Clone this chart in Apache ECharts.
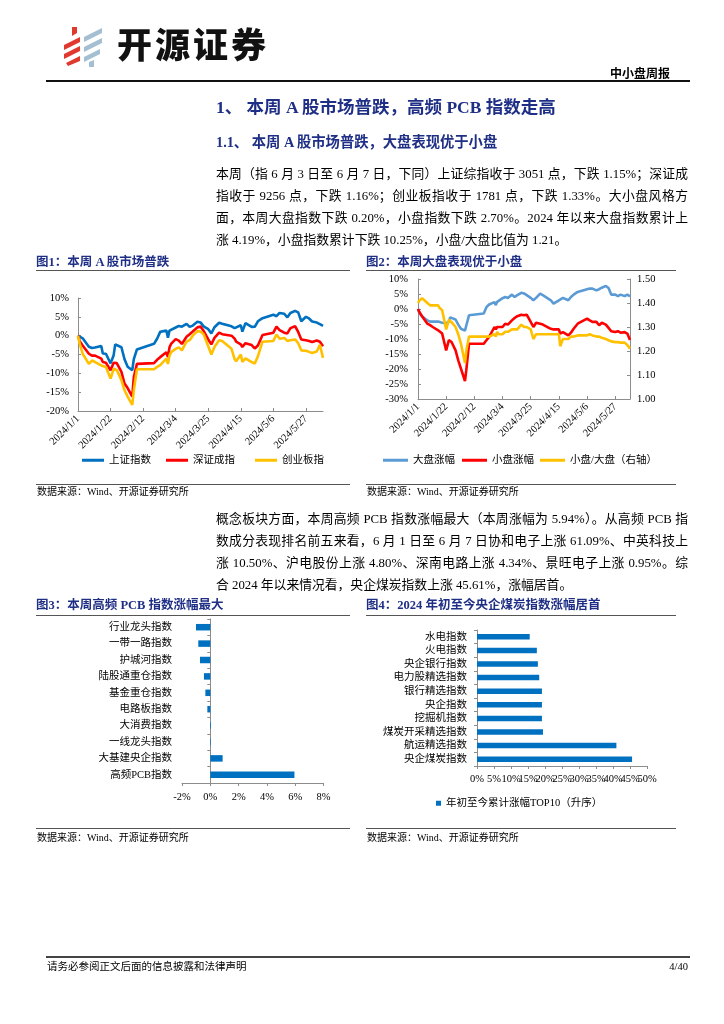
<!DOCTYPE html>
<html><head><meta charset="utf-8">
<script src="https://cdn.jsdelivr.net/npm/echarts@6/dist/echarts.min.js"></script>
<style>
html,body{margin:0;padding:0;background:#fff;}
#page{position:relative;width:724px;height:1024px;overflow:hidden;background:#fff;}
#chart{position:absolute;left:0;top:0;width:724px;height:1024px;}
.t{position:absolute;white-space:nowrap;font-family:'Liberation Serif','Noto Sans CJK SC',serif;color:#000;}
.h{color:#1f2f86;font-weight:bold;}
.ln{position:absolute;background:#555;height:1px;}
.p{position:absolute;left:216px;width:472px;font-size:12.8px;line-height:16px;height:16px;font-family:'Liberation Serif','Noto Sans CJK SC',serif;white-space:normal;text-align:justify;text-align-last:justify;color:#000;}
.p.last{text-align-last:left;}
</style></head>
<body>
<div id="page">
<div id="chart"></div>
<svg style="position:absolute;left:0;top:0" width="120" height="80">
  <polygon points="72,27 77,27 77,33 72,36" fill="#e03a2f"/>
  <polygon points="64,45 80,37 80,42 64,50" fill="#e03a2f"/>
  <polygon points="64,54 80,46 80,51 64,59" fill="#e03a2f"/>
  <polygon points="66,63 80,56 80,61 68,66" fill="#e03a2f"/>
  <polygon points="84,37 102,28 102,33 84,42" fill="#a3bfd1"/>
  <polygon points="84,47 102,38 102,43 84,52" fill="#a3bfd1"/>
  <polygon points="84,57 100,49 100,54 84,62" fill="#a3bfd1"/>
  <polygon points="89,62 94,60 94,67 89,67" fill="#a3bfd1"/>
</svg>
<div class="t" style="left:117px;top:22px;font-size:35px;line-height:42px;font-family:'Noto Sans CJK SC';font-weight:900;letter-spacing:3px;color:#111;">开源证券</div>
<div class="t" style="right:54px;top:65px;font-size:12px;line-height:16px;font-weight:bold;font-family:'Noto Sans CJK SC';">中小盘周报</div>
<div class="ln" style="left:46px;top:80px;width:644px;height:1.5px;background:#111;"></div>

<div class="t h" style="left:216px;top:97px;font-size:17.5px;line-height:20px;">1、 本周 A 股市场普跌，高频 PCB 指数走高</div>
<div class="t h" style="left:216px;top:133px;font-size:14.3px;line-height:18px;">1.1、 本周 A 股市场普跌，大盘表现优于小盘</div>

<div class="p" style="top:166px;">本周（指 6 月 3 日至 6 月 7 日，下同）上证综指收于 3051 点，下跌 1.15%；深证成</div>
<div class="p" style="top:188px;">指收于 9256 点，下跌 1.16%；创业板指收于 1781 点，下跌 1.33%。大小盘风格方</div>
<div class="p" style="top:210px;">面，本周大盘指数下跌 0.20%，小盘指数下跌 2.70%。2024 年以来大盘指数累计上</div>
<div class="p last" style="top:232px;">涨 4.19%，小盘指数累计下跌 10.25%，小盘/大盘比值为 1.21。</div>

<div class="t h" style="left:36px;top:254px;font-size:12.5px;line-height:16px;">图1：本周 A 股市场普跌</div>
<div class="t h" style="left:366px;top:254px;font-size:12.5px;line-height:16px;">图2：本周大盘表现优于小盘</div>
<div class="ln" style="left:36px;top:270px;width:314px;"></div>
<div class="ln" style="left:366px;top:270px;width:310px;"></div>

<div class="ln" style="left:36px;top:484px;width:314px;"></div>
<div class="ln" style="left:366px;top:484px;width:310px;"></div>
<div class="t" style="left:37px;top:485px;font-size:10px;line-height:14px;">数据来源：Wind、开源证券研究所</div>
<div class="t" style="left:367px;top:485px;font-size:10px;line-height:14px;">数据来源：Wind、开源证券研究所</div>

<div class="p" style="top:511px;">概念板块方面，本周高频 PCB 指数涨幅最大（本周涨幅为 5.94%）。从高频 PCB 指</div>
<div class="p" style="top:533px;">数成分表现排名前五来看，6 月 1 日至 6 月 7 日协和电子上涨 61.09%、中英科技上</div>
<div class="p" style="top:555px;">涨 10.50%、沪电股份上涨 4.80%、深南电路上涨 4.34%、景旺电子上涨 0.95%。综</div>
<div class="p last" style="top:577px;">合 2024 年以来情况看，央企煤炭指数上涨 45.61%，涨幅居首。</div>

<div class="t h" style="left:36px;top:597px;font-size:12.5px;line-height:16px;">图3：本周高频 PCB 指数涨幅最大</div>
<div class="t h" style="left:366px;top:597px;font-size:12.5px;line-height:16px;">图4：2024 年初至今央企煤炭指数涨幅居首</div>
<div class="ln" style="left:36px;top:615px;width:314px;"></div>
<div class="ln" style="left:366px;top:615px;width:310px;"></div>

<div class="ln" style="left:36px;top:828px;width:314px;"></div>
<div class="ln" style="left:366px;top:828px;width:310px;"></div>
<div class="t" style="left:37px;top:831px;font-size:10px;line-height:14px;">数据来源：Wind、开源证券研究所</div>
<div class="t" style="left:367px;top:831px;font-size:10px;line-height:14px;">数据来源：Wind、开源证券研究所</div>

<div class="ln" style="left:46px;top:956px;width:644px;height:2px;background:#444;"></div>
<div class="t" style="left:47px;top:960px;font-size:10.5px;line-height:14px;">请务必参阅正文后面的信息披露和法律声明</div>
<div class="t" style="right:36px;top:960px;font-size:10.5px;line-height:14px;">4/40</div>
</div>

<script>
// ---- data ----
const dates = ['2024-01-01','2024-01-02','2024-01-04','2024-01-08','2024-01-10','2024-01-12','2024-01-16','2024-01-17','2024-01-19','2024-01-22','2024-01-24','2024-01-25','2024-01-26','2024-01-29','2024-01-31','2024-02-02','2024-02-05','2024-02-06','2024-02-08','2024-02-19','2024-02-21','2024-02-23','2024-02-27','2024-02-28','2024-02-29','2024-03-01','2024-03-04','2024-03-06','2024-03-08','2024-03-11','2024-03-13','2024-03-15','2024-03-18','2024-03-20','2024-03-22','2024-03-25','2024-03-27','2024-03-29','2024-04-01','2024-04-03','2024-04-09','2024-04-11','2024-04-12','2024-04-15','2024-04-16','2024-04-18','2024-04-22','2024-04-24','2024-04-26','2024-04-29','2024-05-06','2024-05-08','2024-05-10','2024-05-13','2024-05-15','2024-05-17','2024-05-20','2024-05-22','2024-05-24','2024-05-27','2024-05-29','2024-05-31','2024-06-03','2024-06-05','2024-06-07'];
// Fig 1 (%)
const sse = [0,-0.43,-0.69,-2.94,-3.27,-3.12,-2.72,-4.75,-4.80,-7.35,-5.18,-2.31,-2.18,-3.08,-6.27,-8.23,-9.17,-6.23,-3.66,-2.16,-0.81,1.01,1.36,-0.57,1.35,1.75,2.16,2.58,2.39,3.14,2.32,2.68,3.70,3.52,2.46,1.73,0.61,2.23,3.44,3.17,2.47,1.99,1.50,2.77,1.08,3.34,2.34,2.35,3.82,4.64,5.57,5.16,6.04,5.82,4.87,6.02,6.60,6.17,3.83,5.01,4.57,3.76,3.48,3.04,2.57];
const szc = [0,-1.4,-2.6,-4.8,-5.3,-5.3,-6.1,-7.0,-7.2,-9.2,-7.2,-6.8,-7.3,-9.6,-12.7,-13.9,-16.2,-11.0,-7.5,-7.3,-6.4,-5.7,-4.4,-5.7,-3.1,-2.2,-0.9,-1.3,-2.2,-0.3,0.4,1.1,2.2,2.4,1.3,-1.0,-2.3,-0.6,0.8,0.4,0.0,-0.8,-1.6,-2.3,-3.0,-2.0,-2.5,-3.4,-2.6,0.2,0.8,2.4,1.5,0.8,0.6,2.0,2.5,1.0,-1.0,-1.2,-1.4,-1.7,-1.3,-1.6,-2.8];
const cyb = [0,-2.0,-4.8,-7.5,-6.6,-7.0,-7.9,-7.9,-8.3,-11.4,-8.8,-9.0,-9.1,-11.8,-14.5,-16.2,-18.4,-14.5,-8.9,-8.9,-8.3,-7.8,-6.1,-7.5,-5.3,-4.4,-3.5,-3.1,-3.9,-1.6,-1.2,0.0,1.2,1.1,0.4,-2.8,-5.0,-3.0,-1.2,-1.4,-3.5,-6.2,-6.8,-5.0,-7.0,-6.0,-7.0,-7.4,-5.5,-1.6,-1.4,0.3,-0.8,-0.6,-1.4,-1.2,-1.0,-2.0,-3.9,-4.0,-4.3,-4.6,-4.2,-2.4,-5.9];
// Fig 2
const bigCap = [0,-1.3,-2.4,-3.8,-4.2,-4.2,-4.2,-4.8,-4.6,-4.8,-4.2,-2.8,-2.6,-3.5,-5.2,-6.6,-7.2,-5.5,-2.1,-1.5,0.6,1.5,2.3,1.3,2.4,2.9,3.6,4.0,3.7,4.8,4.0,4.6,5.4,5.2,4.6,3.7,2.9,3.7,5.1,4.6,2.9,1.8,1.2,2.9,2.3,3.7,2.9,4.0,4.8,5.7,6.6,6.8,6.8,6.2,6.6,7.1,7.7,7.0,4.8,4.8,4.3,4.8,4.3,4.8,4.2];
const smallCap = [0,-1.0,-2.4,-4.9,-5.4,-6.0,-7.1,-7.4,-8.2,-13.8,-10.4,-9.9,-11.0,-13.8,-17.1,-19.9,-24.0,-20.4,-11.6,-11.6,-10.4,-9.3,-6.0,-6.8,-6.0,-5.4,-6.0,-4.9,-5.2,-3.8,-3.0,-2.4,-1.9,-2.1,-1.9,-4.3,-6.0,-4.6,-4.9,-5.2,-6.6,-6.8,-7.4,-6.8,-8.2,-7.7,-8.8,-7.9,-6.6,-4.9,-3.2,-3.8,-4.3,-4.3,-5.4,-4.6,-5.2,-6.3,-7.4,-7.7,-7.4,-7.9,-7.7,-8.2,-10.3];
const ratio = [1.40,1.41,1.42,1.40,1.39,1.39,1.39,1.38,1.37,1.29,1.33,1.33,1.32,1.30,1.27,1.23,1.15,1.20,1.26,1.26,1.26,1.26,1.27,1.26,1.28,1.27,1.27,1.28,1.28,1.29,1.29,1.29,1.31,1.30,1.30,1.29,1.25,1.27,1.27,1.27,1.27,1.27,1.265,1.27,1.22,1.25,1.25,1.26,1.26,1.265,1.265,1.27,1.265,1.26,1.26,1.255,1.25,1.245,1.24,1.237,1.237,1.235,1.235,1.225,1.21];
// Fig 3
const cats3 = ['行业龙头指数','一带一路指数','护城河指数','陆股通重仓指数','基金重仓指数','电路板指数','大消费指数','一线龙头指数','大基建央企指数','高频PCB指数'];
const vals3 = [-1.01,-0.85,-0.73,-0.45,-0.35,-0.21,0.05,0.04,0.87,5.94];
// Fig 4
const cats4 = ['水电指数','火电指数','央企银行指数','电力股精选指数','银行精选指数','央企指数','挖掘机指数','煤炭开采精选指数','航运精选指数','央企煤炭指数'];
const vals4 = [15.5,17.6,17.9,18.3,19.1,19.1,19.1,19.4,41.0,45.61];

// ---- helpers ----
const FF = "'Liberation Serif','Noto Sans CJK SC'";
const BASE = Date.UTC(2024,0,1);
function dayOf(s){const p=s.split('-').map(Number);return (Date.UTC(p[0],p[1]-1,p[2])-BASE)/86400000;}
function pairs(arr){return dates.map((d,i)=>[dayOf(d),arr[i]]);}
function dateLabel(v){ if (v % 21 !== 0) return ''; const dt=new Date(BASE+v*86400000); return '2024/'+(dt.getUTCMonth()+1)+'/'+dt.getUTCDate(); }
const axisLineStyle = {color:'#8c8c8c', width:1};
const lab = {fontFamily:FF, fontSize:10.5, color:'#000'};

function timeX(grid){return {type:'value', gridIndex:grid, min:0, max:158, interval:21,
  axisLine:{show:true, onZero:false, lineStyle:axisLineStyle},
  axisTick:{show:true, inside:true, length:3, lineStyle:axisLineStyle},
  axisLabel:Object.assign({}, lab, {fontSize:10.5, rotate:45, margin:6, formatter:dateLabel, showMaxLabel:false}),
  splitLine:{show:false}};}

function lineS(name, arr, color, xi, yi){return {name, type:'line', xAxisIndex:xi, yAxisIndex:yi, data:pairs(arr),
  showSymbol:false, symbol:'none', lineStyle:{color, width:2.6}, itemStyle:{color}, animation:false};}

function lg(name, left, top, w){return {data:[name], left, top, icon:'rect', itemWidth:w, itemHeight:3, itemGap:0,
  selectedMode:false, padding:0, textStyle:{fontFamily:FF, fontSize:10.5, color:'#000'}};}

const chart = echarts.init(document.getElementById('chart'), null, {renderer:'canvas'});
chart.setOption({
  animation:false,
  backgroundColor:'transparent',
  grid:[
    {left:78, top:298, width:245, height:113},
    {left:418, top:279, width:212, height:120},
    {left:182, top:619, width:141.6, height:164},
    {left:477, top:630, width:170, height:136}
  ],
  xAxis:[
    timeX(0), timeX(1),
    {type:'value', gridIndex:2, min:-2, max:8, interval:2,
      axisLine:{show:true, onZero:false, lineStyle:axisLineStyle},
      axisTick:{show:true, length:3, lineStyle:axisLineStyle},
      axisLabel:Object.assign({}, lab, {margin:9, formatter:'{value}%', showMaxLabel:true, showMinLabel:true}), splitLine:{show:false}},
    {type:'value', gridIndex:3, position:'bottom', min:0, max:50, interval:5,
      axisLine:{show:true, onZero:false, lineStyle:axisLineStyle},
      axisTick:{show:true, length:3, lineStyle:axisLineStyle},
      axisLabel:Object.assign({}, lab, {margin:8, formatter:v=>(v===45?'':v+'%'),
        showMaxLabel:true, showMinLabel:true, hideOverlap:false}), splitLine:{show:false}},
    {type:'value', gridIndex:3, position:'bottom', min:0, max:50, interval:5,
      axisLine:{show:false, onZero:false}, axisTick:{show:false},
      axisLabel:Object.assign({}, lab, {margin:8, formatter:v=>(v===45?'45%':''),
        showMaxLabel:true, showMinLabel:true, hideOverlap:false}), splitLine:{show:false}}
  ],
  yAxis:[
    {type:'value', gridIndex:0, min:-20, max:10, interval:5,
      axisLine:{show:true, onZero:false, lineStyle:axisLineStyle},
      axisTick:{show:true, inside:true, length:3, lineStyle:axisLineStyle},
      axisLabel:Object.assign({}, lab, {margin:9, formatter:'{value}%'}), splitLine:{show:false}},
    {type:'value', gridIndex:1, min:-30, max:10, interval:5,
      axisLine:{show:true, onZero:false, lineStyle:axisLineStyle},
      axisTick:{show:true, inside:true, length:3, lineStyle:axisLineStyle},
      axisLabel:Object.assign({}, lab, {margin:10, formatter:'{value}%'}), splitLine:{show:false}},
    {type:'value', gridIndex:1, position:'right', min:1.0, max:1.5, interval:0.1,
      axisLine:{show:true, onZero:false, lineStyle:axisLineStyle},
      axisTick:{show:true, inside:true, length:3, lineStyle:axisLineStyle},
      axisLabel:Object.assign({}, lab, {margin:7, formatter:v=>v.toFixed(2)}), splitLine:{show:false}},
    {type:'category', gridIndex:2, data:cats3, inverse:true,
      axisLine:{show:false, onZero:false}, axisTick:{show:false},
      axisLabel:Object.assign({}, lab, {margin:10, interval:0})},
    {type:'category', gridIndex:2, data:cats3, inverse:true, position:'left',
      axisLine:{show:true, onZero:true, lineStyle:axisLineStyle},
      axisTick:{show:true, length:3, interval:0, lineStyle:axisLineStyle}, axisLabel:{show:false}},
    {type:'category', gridIndex:3, data:cats4, inverse:true,
      axisLine:{show:true, onZero:false, lineStyle:axisLineStyle},
      axisTick:{show:true, length:3, interval:0, lineStyle:axisLineStyle},
      axisLabel:Object.assign({}, lab, {margin:10, interval:0})}
  ],
  legend:[
    lg('上证指数', 82, 455, 22), lg('深证成指', 166, 455, 22), lg('创业板指', 255, 455, 22),
    lg('大盘涨幅', 383, 455, 25), lg('小盘涨幅', 462, 455, 25), lg('小盘/大盘（右轴）', 540, 455, 25),
    {data:['年初至今累计涨幅TOP10（升序）'], left:436, top:798, icon:'rect', itemWidth:5, itemHeight:5,
      selectedMode:false, padding:0, textStyle:{fontFamily:FF, fontSize:10.5, color:'#000'}}
  ],
  series:[
    lineS('上证指数', sse, '#0070C0', 0, 0),
    lineS('深证成指', szc, '#FF0000', 0, 0),
    lineS('创业板指', cyb, '#FFC000', 0, 0),
    lineS('大盘涨幅', bigCap, '#5B9BD5', 1, 1),
    lineS('小盘涨幅', smallCap, '#FF0000', 1, 1),
    lineS('小盘/大盘（右轴）', ratio, '#FFC000', 1, 2),
    {name:'本周涨幅', type:'bar', xAxisIndex:2, yAxisIndex:3, data:vals3, barWidth:6.5,
      itemStyle:{color:'#0070C0'}},
    {name:'年初至今累计涨幅TOP10（升序）', type:'bar', xAxisIndex:3, yAxisIndex:5, data:vals4, barWidth:5.5,
      itemStyle:{color:'#0070C0'}}
  ]
});
</script>
</body></html>
